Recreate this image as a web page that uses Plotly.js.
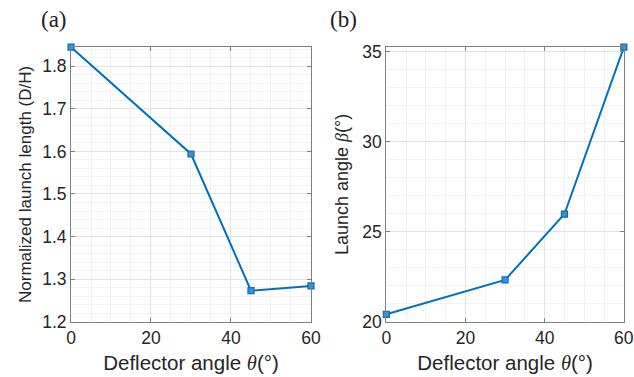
<!DOCTYPE html>
<html>
<head>
<meta charset="utf-8">
<script src="https://cdn.plot.ly/plotly-3.0.1.min.js"></script>
<style>html,body{margin:0;padding:0;background:#fff;}#chart{width:634px;height:377px;}</style>
</head>
<body>
<div id="chart"></div>
<script>
const deflectorAngle = [0, 30, 45, 60];
const launchLength = [1.845, 1.594, 1.273, 1.284];
const launchAngle = [20.41, 22.32, 25.98, 35.25];
const xTicks = [0, 20, 40, 60];
const yTicksA = [1.2, 1.3, 1.4, 1.5, 1.6, 1.7, 1.8];
const yTicksB = [20, 25, 30, 35];

const blue = '#0072BD';
const txt = '#262626';
const fam = 'Liberation Sans, Arial, sans-serif';
const tickFont = {family: fam, size: 17.5, color: txt};
const xTitleFont = {family: fam, size: 20.5, color: txt};
const yTitleFont = {family: fam, size: 17, color: txt};
const yTitleFontB = {family: fam, size: 18, color: txt};

function trace(x, y, xa, ya) {
  return {
    x: x, y: y, xaxis: xa, yaxis: ya, type: 'scatter', mode: 'lines+markers',
    line: {color: blue, width: 2},
    marker: {symbol: 'square', size: 6, color: '#3a8fd6', line: {color: blue, width: 1.2}},
    cliponaxis: false, showlegend: false
  };
}

function axis(extra) {
  return Object.assign({
    showline: true, linecolor: '#7f7f7f', linewidth: 1, mirror: 'ticks',
    ticks: 'inside', ticklen: 4, tickcolor: '#7f7f7f',
    showgrid: true, gridcolor: '#e3e3e3', gridwidth: 1,
    zeroline: false, tickfont: tickFont, fixedrange: true,
    ticklabeloverflow: 'allow'
  }, extra);
}

const theta = '<i style="font-family:Liberation Serif">θ</i>';
const beta = '<i style="font-family:Liberation Serif">β</i>';

const layout = {
  width: 634, height: 377,
  margin: {l: 0, r: 0, t: 0, b: 0},
  paper_bgcolor: '#fff', plot_bgcolor: '#fff',
  font: tickFont,
  xaxis: axis({domain: [0.112, 0.4905], range: [0, 60], tickvals: xTicks, anchor: 'y',
    minor: {showgrid: true, gridcolor: '#f2f2f2', dtick: 5, ticks: ''},
    title: {text: 'Deflector angle ' + theta + '(°)', font: xTitleFont, standoff: 8}}),
  yaxis: axis({domain: [0.1467, 0.875], range: [1.2, 1.845], tickvals: yTicksA, tickformat: '.1f', anchor: 'x',
    minor: {showgrid: true, gridcolor: '#f2f2f2', dtick: 0.02, tick0: 1.2, ticks: ''},
    title: {text: 'Normalized launch length (D/H)', font: yTitleFont, standoff: 6}}),
  xaxis2: axis({domain: [0.6093, 0.984], range: [0, 60], tickvals: xTicks, anchor: 'y2',
    minor: {showgrid: true, gridcolor: '#f2f2f2', dtick: 5, ticks: ''},
    title: {text: 'Deflector angle ' + theta + '(°)', font: xTitleFont, standoff: 8}}),
  yaxis2: axis({domain: [0.1467, 0.875], range: [20, 35.25], tickvals: yTicksB, anchor: 'x2',
    minor: {showgrid: true, gridcolor: '#f2f2f2', dtick: 1, tick0: 20, ticks: ''},
    title: {text: 'Launch angle ' + beta + '(°)', font: yTitleFontB, standoff: 9}}),
  annotations: [
    {text: '(a)', xref: 'paper', yref: 'paper', x: 39/634, y: 1 - 5/377, xanchor: 'left', yanchor: 'top', showarrow: false,
      font: {family: 'Liberation Serif, Times New Roman, serif', size: 23, color: '#222'}},
    {text: '(b)', xref: 'paper', yref: 'paper', x: 328/634, y: 1 - 5/377, xanchor: 'left', yanchor: 'top', showarrow: false,
      font: {family: 'Liberation Serif, Times New Roman, serif', size: 23, color: '#222'}}
  ]
};

Plotly.newPlot('chart', [
  trace(deflectorAngle, launchLength, 'x', 'y'),
  trace(deflectorAngle, launchAngle, 'x2', 'y2')
], layout, {staticPlot: true, displayModeBar: false});
</script>
</body>
</html>
